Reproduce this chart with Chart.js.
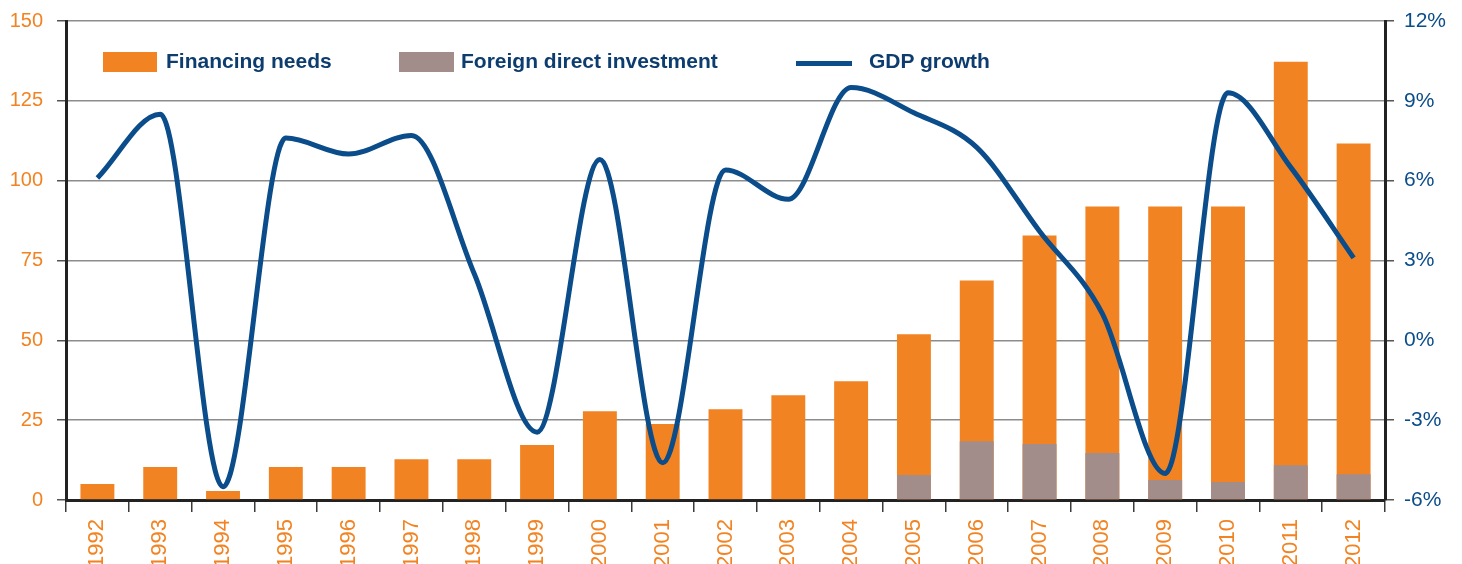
<!DOCTYPE html>
<html>
<head>
<meta charset="utf-8">
<script src="https://cdn.jsdelivr.net/npm/chart.js@4.4.1/dist/chart.umd.min.js"></script>
<style>
  html, body { margin: 0; padding: 0; background: #ffffff; }
  #wrap { position: relative; width: 1462px; height: 564px; }
  #legend { position: absolute; left: 0; top: 0; width: 1462px; height: 100px; pointer-events: none;
            font-family: "Liberation Sans", Arial, sans-serif; font-weight: bold; font-size: 21px; color: #0D3C6E; }
  .sw { position: absolute; }
  .lt { position: absolute; top: 50px; line-height: 21px; white-space: nowrap; }
</style>
</head>
<body>
<div id="wrap">
  <canvas id="c" width="1462" height="564"></canvas>
  <div id="legend">
    <div class="sw" style="left:103px;top:52px;width:54px;height:20px;background:#F28322;"></div>
    <div class="lt" style="left:166px;">Financing needs</div>
    <div class="sw" style="left:399px;top:52px;width:55px;height:20px;background:#A38D8A;"></div>
    <div class="lt" style="left:461px;">Foreign direct investment</div>
    <div class="sw" style="left:796px;top:61px;width:56px;height:5px;background:#0B4C8A;"></div>
    <div class="lt" style="left:869px;">GDP growth</div>
  </div>
</div>
<script>
const years = ["1992","1993","1994","1995","1996","1997","1998","1999","2000","2001","2002","2003","2004","2005","2006","2007","2008","2009","2010","2011","2012"];
const financingNeeds = [5, 10.3, 2.8, 10.3, 10.3, 12.8, 12.8, 17.2, 27.8, 23.8, 28.4, 32.8, 37.2, 51.9, 68.75, 82.8, 91.9, 91.9, 91.9, 137.2, 111.6];
const foreignDirectInvestment = [null, null, null, null, null, null, null, null, null, null, null, null, null, 7.8, 18.4, 17.5, 14.7, 6.3, 5.6, 10.9, 8.1];
const gdpGrowth = [6.1, 8.5, -5.5, 7.6, 7.0, 7.7, 2.5, -3.45, 6.8, -4.6, 6.4, 5.3, 9.5, 8.55, 7.25, 4.1, 1.0, -5.0, 9.3, 6.5, 3.1];
const leftTicks = [0, 25, 50, 75, 100, 125, 150];
const rightTicks = [-6, -3, 0, 3, 6, 9, 12];

const ORANGE = "#F28322";
const FDI = "#A38D8A";
const BLUE = "#0B4C8A";
const FONT = "'Liberation Sans', Arial, sans-serif";

function noPad(s) { s.paddingTop = 0; s.paddingBottom = 0; s.paddingLeft = 0; s.paddingRight = 0; }

new Chart(document.getElementById("c"), {
  type: "bar",
  data: {
    labels: years,
    datasets: [
      { type: "line", label: "GDP growth", data: gdpGrowth, yAxisID: "y1", borderColor: BLUE, borderWidth: 5,
        pointRadius: 0, cubicInterpolationMode: "monotone", fill: false, order: 0, borderCapStyle: "butt", borderJoinStyle: "round" },
      { label: "Foreign direct investment", data: foreignDirectInvestment, yAxisID: "y", backgroundColor: FDI,
        grouped: false, barPercentage: 0.54, categoryPercentage: 1, order: 1 },
      { label: "Financing needs", data: financingNeeds, yAxisID: "y", backgroundColor: ORANGE,
        grouped: false, barPercentage: 0.54, categoryPercentage: 1, order: 2 }
    ]
  },
  options: {
    responsive: false,
    animation: false,
    layout: { padding: { top: 21, left: 0, right: 0, bottom: 0 } },
    plugins: { legend: { display: false }, tooltip: { enabled: false } },
    scales: {
      x: {
        offset: true,
        grid: { display: true, drawOnChartArea: false, offset: true, tickLength: 12, color: "#3a3a3a", lineWidth: 1.5 },
        border: { display: true, color: "#222222", width: 3 },
        ticks: { color: ORANGE, font: { family: FONT, size: 22 }, minRotation: 90, maxRotation: 90, padding: 7, autoSkip: false },
        afterFit: s => { s.height = 64; noPad(s); }
      },
      y: {
        position: "left", min: 0, max: 150,
        afterBuildTicks: s => { s.ticks = leftTicks.map(v => ({ value: v })); },
        grid: { color: "#8c8c8c", lineWidth: 1.5, tickLength: 9, tickColor: "#555555", drawTicks: true },
        border: { display: true, color: "#222222", width: 3 },
        ticks: { color: ORANGE, font: { family: FONT, size: 20 }, padding: 14 },
        afterFit: s => { s.width = 66; noPad(s); }
      },
      y1: {
        position: "right", min: -6, max: 12,
        afterBuildTicks: s => { s.ticks = rightTicks.map(v => ({ value: v })); },
        grid: { drawOnChartArea: false, tickLength: 9, tickColor: "#555555", lineWidth: 1.5 },
        border: { display: true, color: "#222222", width: 3 },
        ticks: { color: BLUE, font: { family: FONT, size: 21 }, padding: 10, callback: v => v + "%" },
        afterFit: s => { s.width = 77; noPad(s); }
      }
    }
  }
});
</script>
</body>
</html>
